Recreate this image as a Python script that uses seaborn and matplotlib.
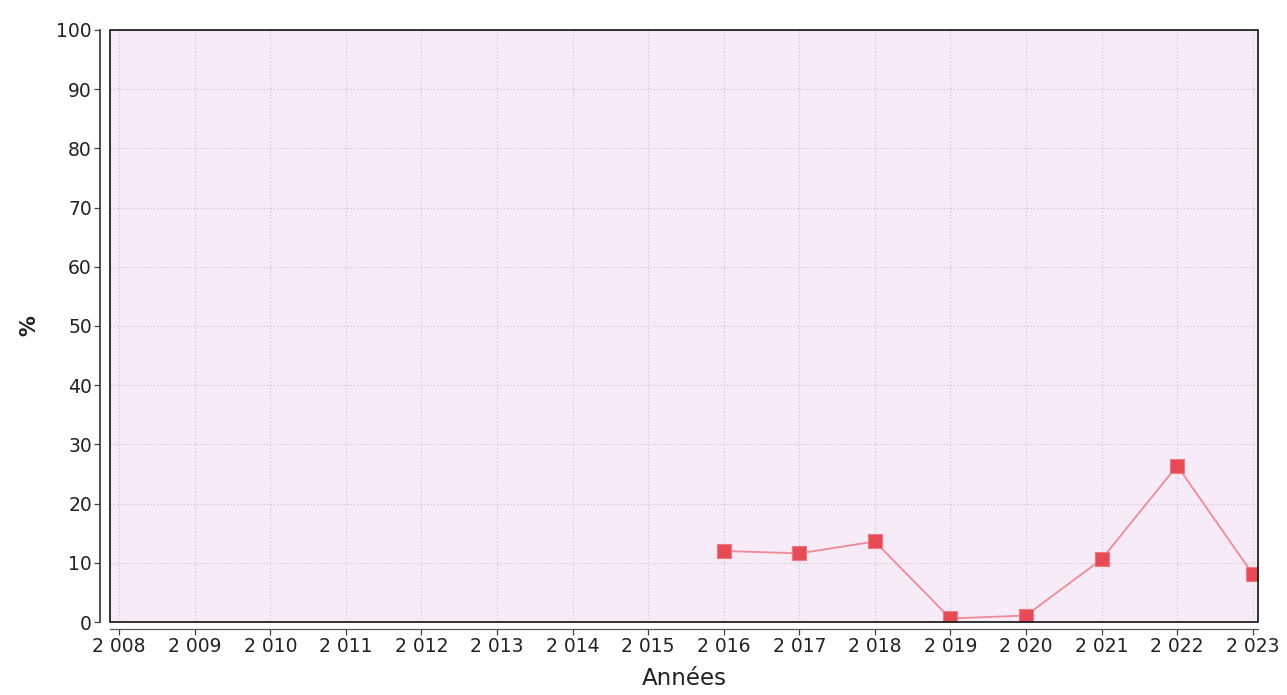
import numpy as np
import pandas as pd
import seaborn as sns
import matplotlib.pyplot as plt
from matplotlib.ticker import FuncFormatter, MultipleLocator
from matplotlib.patches import Rectangle

years = [2016, 2017, 2018, 2019, 2020, 2021, 2022, 2023]
pct = [12.0, 11.6, 13.6, 0.6, 1.1, 10.6, 26.4, 8.1]
all_years = list(range(2008, 2024))

df = pd.DataFrame({'annee': years, 'pct': pct})

sns.set_style('white')
plt.rcParams['font.family'] = ['DejaVu Sans']

fig = plt.figure(figsize=(12.87, 6.95), dpi=100)
ax = fig.add_axes([0.0855, 0.105, 0.892, 0.852])
ax.set_facecolor('#f6ebf7')

sns.lineplot(data=df, x='annee', y='pct', ax=ax, color='#f08a94', linewidth=1.3, zorder=3)
sns.scatterplot(data=df, x='annee', y='pct', ax=ax, marker='s', s=90, color='#e84a55',
                edgecolor='#f07a84', linewidth=0.8, zorder=4)

ax.set_xlim(2007.88, 2023.07)
ax.set_ylim(0, 100)
ax.set_xticks(all_years)
ax.xaxis.set_major_formatter(FuncFormatter(lambda v, p: f"{int(v):,}".replace(',', ' ')))
ax.yaxis.set_major_locator(MultipleLocator(10))

ax.grid(True, color='#c8c0c8', linestyle=(0, (1, 2)), linewidth=0.8)
ax.set_axisbelow(True)

for s in ['top', 'right']:
    ax.spines[s].set_visible(False)
ax.spines['left'].set_position(('outward', 7))
ax.spines['bottom'].set_position(('outward', 5))
ax.spines['left'].set_color('#333333')
ax.spines['bottom'].set_color('#555555')
ax.spines['left'].set_linewidth(1.2)
ax.spines['bottom'].set_linewidth(0.9)

ax.add_patch(Rectangle((0, 0), 1, 1, transform=ax.transAxes, fill=False,
                       edgecolor='#222222', linewidth=1.3, zorder=5, clip_on=False))

ax.tick_params(axis='both', which='both', direction='out', length=4, width=0.9,
               color='#444444', labelsize=13.5, labelcolor='#222222', pad=2,
               left=True, bottom=True)

ax.set_xlabel('Années', fontsize=16.5, color='#222222', labelpad=8)
ax.set_ylabel('%', fontsize=15, fontweight='bold', color='#222222', labelpad=12)

fig.savefig('out.png', dpi=100, facecolor='white')
